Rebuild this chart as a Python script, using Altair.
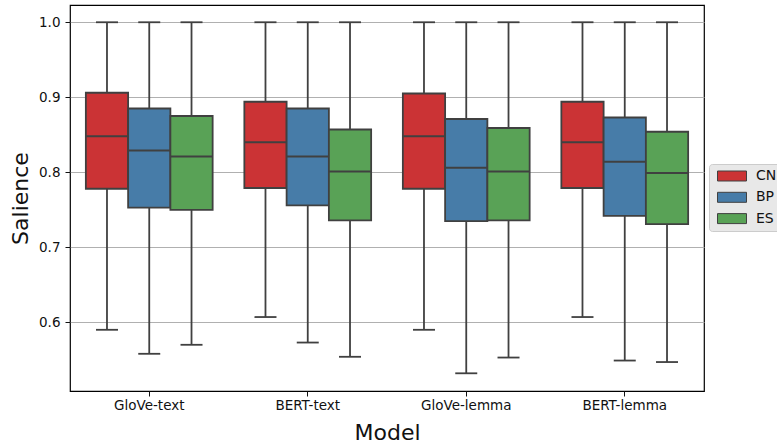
import altair as alt
import pandas as pd

models = ["GloVe-text", "BERT-text", "GloVe-lemma", "BERT-lemma"]
groups = ["CN", "BP", "ES"]
colors = ["#cb3335", "#477ca8", "#59a256"]

# per model: values for CN, BP, ES
whisker_high = [[1.0, 1.0, 1.0], [1.0, 1.0, 1.0], [1.0, 1.0, 1.0], [1.0, 1.0, 1.0]]
q3 = [[0.906, 0.885, 0.875], [0.894, 0.885, 0.857], [0.905, 0.871, 0.859], [0.894, 0.873, 0.854]]
median = [[0.848, 0.829, 0.821], [0.840, 0.821, 0.801], [0.848, 0.806, 0.801], [0.840, 0.814, 0.799]]
q1 = [[0.778, 0.753, 0.750], [0.779, 0.756, 0.736], [0.778, 0.735, 0.736], [0.779, 0.742, 0.731]]
whisker_low = [[0.590, 0.558, 0.570], [0.607, 0.573, 0.554], [0.590, 0.532, 0.553], [0.607, 0.549, 0.547]]

y_ticks = [0.6, 0.7, 0.8, 0.9, 1.0]

rows = []
for i, m in enumerate(models):
    for j, g in enumerate(groups):
        rows.append({
            "model": m, "group": g,
            "low": whisker_low[i][j], "q1": q1[i][j], "median": median[i][j],
            "q3": q3[i][j], "high": whisker_high[i][j],
        })
df = pd.DataFrame(rows)

line_color = "#404040"
lw = 1.8

yscale = alt.Scale(domain=[0.5084, 1.023], nice=False, zero=False)

base = alt.Chart(df).encode(
    x=alt.X("model:N", sort=models, title="Model",
            scale=alt.Scale(paddingInner=0, paddingOuter=0),
            axis=alt.Axis(labelAngle=0, tickSize=5, labelPadding=2.5, grid=False, domain=False,
                          labelFontSize=13.5, titleFontSize=22, titleFontWeight="normal",
                          labelColor="#111111", tickColor="#111111", titleColor="#111111",
                          titleX=317, titleY=48, titleBaseline="alphabetic")),
    xOffset=alt.XOffset("group:N", sort=groups,
                        scale=alt.Scale(paddingInner=0, paddingOuter=0.375)),
)

whisker = base.mark_rule(color=line_color, strokeWidth=lw).encode(
    y=alt.Y("low:Q", scale=yscale, title="Salience",
            axis=alt.Axis(values=y_ticks, format=".1f", tickSize=5, labelPadding=5,
                          domain=False, grid=True, gridColor="#b0b0b0", gridWidth=1,
                          labelFontSize=13.5, titleFontSize=22, titleFontWeight="normal",
                          labelColor="#111111", tickColor="#111111", titleColor="#111111",
                          titleAngle=-90, titleX=-43, titleY=193, titleAlign="center",
                          titleBaseline="alphabetic")),
    y2="high:Q",
)

box = base.mark_bar(stroke=line_color, strokeWidth=lw).encode(
    y=alt.Y("q1:Q", scale=yscale),
    y2="q3:Q",
    color=alt.Color("group:N", sort=groups,
                    scale=alt.Scale(domain=groups, range=colors),
                    legend=alt.Legend(
                        title=None, orient="none", legendX=639, legendY=159,
                        fillColor="#e8e8e8", strokeColor="#cccccc", cornerRadius=3,
                        padding=5, rowPadding=7.3,
                        symbolType="M-2.9,-1L2.9,-1L2.9,1L-2.9,1Z", symbolSize=100,
                        symbolStrokeColor=line_color, symbolStrokeWidth=1,
                        symbolOffset=11, labelOffset=17,
                        labelFontSize=14, labelColor="#111111")),
)

med = base.mark_tick(orient="horizontal", size=42, thickness=lw, color=line_color, opacity=1).encode(
    y=alt.Y("median:Q", scale=yscale)
)
cap_low = base.mark_tick(orient="horizontal", size=22, thickness=lw, color=line_color, opacity=1).encode(
    y=alt.Y("low:Q", scale=yscale)
)
cap_high = base.mark_tick(orient="horizontal", size=22, thickness=lw, color=line_color, opacity=1).encode(
    y=alt.Y("high:Q", scale=yscale)
)

chart = alt.layer(whisker, box, med, cap_low, cap_high).properties(
    width=634, height=386,
    autosize=alt.AutoSizeParams(type="none"),
    padding={"left": 70, "top": 5, "right": 73, "bottom": 53},
).configure(font="DejaVu Sans").configure_view(stroke="black", strokeWidth=1.2)

chart.save("out.html", embed_options={"renderer": "svg", "actions": False})
